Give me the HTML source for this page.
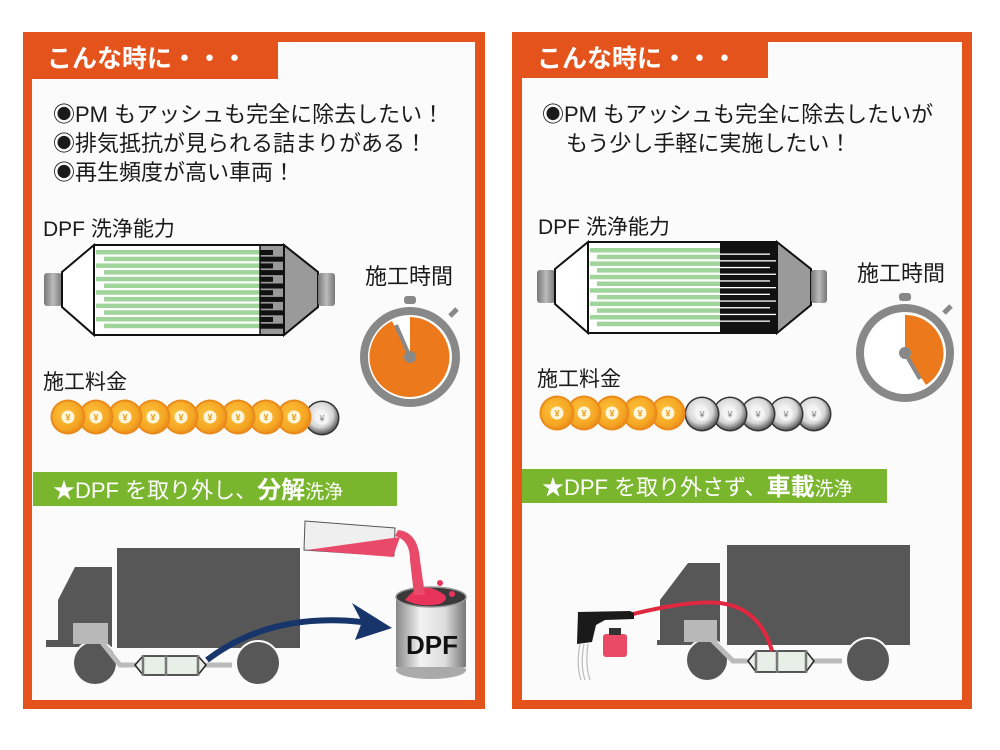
<!DOCTYPE html>
<html><head><meta charset="utf-8">
<style>
html,body{margin:0;padding:0;background:#fff;}
svg{display:block;}
text{font-family:"Liberation Sans","Noto Sans CJK JP",sans-serif;}
</style></head>
<body>
<svg width="1000" height="750" viewBox="0 0 1000 750" xmlns="http://www.w3.org/2000/svg">
<defs>
  <radialGradient id="gc" cx="0.4" cy="0.4" r="0.7">
    <stop offset="0" stop-color="#fcc23a"/><stop offset="0.7" stop-color="#f5a623"/><stop offset="1" stop-color="#e8861a"/>
  </radialGradient>
  <radialGradient id="sc" cx="0.45" cy="0.4" r="0.7">
    <stop offset="0" stop-color="#ffffff"/><stop offset="0.55" stop-color="#d8d8d8"/><stop offset="0.85" stop-color="#606060"/><stop offset="1" stop-color="#222"/>
  </radialGradient>
  <linearGradient id="cyl" x1="0" x2="1">
    <stop offset="0" stop-color="#888"/><stop offset="0.35" stop-color="#f2f2f2"/><stop offset="0.7" stop-color="#ddd"/><stop offset="1" stop-color="#777"/>
  </linearGradient>
  <linearGradient id="cap" x1="0" x2="1">
    <stop offset="0" stop-color="#777"/><stop offset="0.5" stop-color="#bbb"/><stop offset="1" stop-color="#777"/>
  </linearGradient>
  <g id="gcoin"><circle r="17.5" fill="#e98a1b"/><circle r="15.5" fill="url(#gc)"/><circle r="6.5" fill="#fff6dc"/><text y="3.5" font-size="9" text-anchor="middle" fill="#e8a020" font-weight="bold">¥</text></g>
  <g id="scoin"><circle r="17.5" fill="#333"/><circle r="16" fill="url(#sc)"/><circle r="7" fill="#f4f4f4"/><text y="3.5" font-size="9" text-anchor="middle" fill="#888">¥</text></g>
</defs>

<!-- ===== LEFT PANEL ===== -->
<rect x="23" y="32" width="462" height="677" fill="#e5531c"/>
<rect x="32" y="79" width="443" height="621" fill="#fbfbfb"/>
<rect x="278" y="42" width="197" height="40" fill="#fbfbfb"/>
<text x="47" y="67" font-size="25" font-weight="bold" fill="#fff">こんな時に・・・</text>

<text x="53" y="122" font-size="22" fill="#1a1a1a">◉PM もアッシュも完全に除去したい！</text>
<text x="53" y="151" font-size="22" fill="#1a1a1a">◉排気抵抗が見られる詰まりがある！</text>
<text x="53" y="180" font-size="22" fill="#1a1a1a">◉再生頻度が高い車両！</text>

<text x="43" y="236" font-size="21" fill="#1a1a1a">DPF 洗浄能力</text>
<!-- left filter -->
<rect x="44" y="273" width="18" height="33" rx="3" fill="url(#cap)"/>
<polygon points="62,272 94,245 94,335 62,307" fill="#fff" stroke="#111" stroke-width="2"/>
<rect x="95" y="245" width="188" height="90" fill="#fff"/>
<line x1="95" y1="245" x2="283" y2="245" stroke="#111" stroke-width="2"/>
<line x1="95" y1="335" x2="283" y2="335" stroke="#111" stroke-width="2"/>
<g fill="#9fd49a">
<rect x="96" y="250" width="164" height="4.5"/><rect x="104" y="256.7" width="156" height="4.5"/>
<rect x="96" y="263.4" width="164" height="4.5"/><rect x="104" y="270.1" width="156" height="4.5"/>
<rect x="96" y="276.8" width="164" height="4.5"/><rect x="104" y="283.5" width="156" height="4.5"/>
<rect x="96" y="290.2" width="164" height="4.5"/><rect x="104" y="296.9" width="156" height="4.5"/>
<rect x="96" y="303.6" width="164" height="4.5"/><rect x="104" y="310.3" width="156" height="4.5"/>
<rect x="96" y="317" width="164" height="4.5"/><rect x="104" y="323.7" width="156" height="4.5"/>
</g>
<rect x="260" y="246" width="23" height="88" fill="#999"/>
<line x1="260" y1="246" x2="260" y2="334" stroke="#111" stroke-width="1.5"/>
<g fill="#111">
<rect x="260" y="250" width="13" height="5"/><rect x="260" y="256.7" width="23" height="5"/>
<rect x="260" y="263.4" width="13" height="5"/><rect x="260" y="270.1" width="23" height="5"/>
<rect x="260" y="276.8" width="13" height="5"/><rect x="260" y="283.5" width="23" height="5"/>
<rect x="260" y="290.2" width="13" height="5"/><rect x="260" y="296.9" width="23" height="5"/>
<rect x="260" y="303.6" width="13" height="5"/><rect x="260" y="310.3" width="23" height="5"/>
<rect x="260" y="317" width="13" height="5"/><rect x="260" y="323.7" width="23" height="5"/>
</g>
<polygon points="284,245 318,272 318,307 284,335" fill="#9a9a9a" stroke="#111" stroke-width="2"/>
<rect x="318" y="273" width="17" height="33" rx="3" fill="url(#cap)"/>

<text x="365" y="284" font-size="22" fill="#1a1a1a">施工時間</text>
<!-- left stopwatch -->
<rect x="404" y="296" width="12" height="8" rx="3" fill="#888"/>
<line x1="450" y1="316" x2="457" y2="309" stroke="#888" stroke-width="5"/>
<circle cx="410" cy="357" r="50" fill="#888"/>
<circle cx="410" cy="357" r="42" fill="#fff"/>
<path d="M410,357 L410,317 A40,40 0 1 1 392,321 Z" fill="#ec7a1c"/>
<line x1="410" y1="357" x2="396" y2="325" stroke="#888" stroke-width="4"/>
<circle cx="410" cy="357" r="6" fill="#888"/>

<text x="43" y="389" font-size="21" fill="#1a1a1a">施工料金</text>
<use href="#scoin" x="322" y="418"/>
<use href="#gcoin" x="294" y="417"/><use href="#gcoin" x="266" y="417"/><use href="#gcoin" x="238" y="417"/>
<use href="#gcoin" x="210" y="417"/><use href="#gcoin" x="181" y="417"/><use href="#gcoin" x="153" y="417"/>
<use href="#gcoin" x="125" y="417"/><use href="#gcoin" x="96" y="417"/><use href="#gcoin" x="68" y="417"/>

<rect x="33" y="472" width="364" height="34" fill="#79b62e"/>
<text x="53" y="498" font-size="22" fill="#fff">★DPF を取り外し、<tspan font-weight="bold" font-size="24">分解</tspan><tspan font-size="19">洗浄</tspan></text>

<!-- left truck -->
<rect x="117" y="548" width="183" height="100" fill="#575757"/>
<path d="M112,567 L75,567 L58,600 L58,640 L46,640 L46,647 L112,647 Z" fill="#575757"/>
<circle cx="95" cy="663" r="22" fill="#575757" stroke="#fbfbfb" stroke-width="2"/>
<circle cx="258" cy="663" r="22" fill="#575757" stroke="#fbfbfb" stroke-width="2"/>
<rect x="73" y="623" width="35" height="21" fill="#b8b8b8"/>
<polyline points="100,640 120,665 232,665" fill="none" stroke="#bbb" stroke-width="5"/>
<path d="M135,665 L143,656 L198,656 L206,665 L198,675 L143,675 Z" fill="#e8efe6" stroke="#222" stroke-width="1.5"/>
<line x1="143" y1="655" x2="143" y2="676" stroke="#777" stroke-width="2.5"/>
<line x1="166" y1="655" x2="166" y2="676" stroke="#777" stroke-width="2.5"/>
<line x1="198" y1="655" x2="198" y2="676" stroke="#777" stroke-width="2.5"/>
<path d="M207,660 Q270,612 362,622" fill="none" stroke="#17346b" stroke-width="6"/>
<polygon points="392,628 352,603 362,622 355,640" fill="#17346b"/>

<!-- bucket -->
<ellipse cx="431" cy="670" rx="35" ry="9" fill="#aaa"/>
<rect x="396" y="597" width="70" height="70" fill="url(#cyl)"/>
<ellipse cx="431" cy="597" rx="35" ry="10" fill="#3a3a3a" stroke="#999" stroke-width="1.5"/>
<path d="M405,600 Q420,580 440,592 Q452,598 440,604 Q420,608 405,600 Z" fill="#e8345a"/>
<circle cx="440" cy="583" r="3" fill="#e8345a"/><circle cx="452" cy="594" r="3" fill="#e8345a"/>
<text x="432" y="654" font-size="26" font-weight="bold" text-anchor="middle" fill="#111">DPF</text>
<!-- pour -->
<polygon points="305,521 395,528 394,556 304,550" fill="#efefef" stroke="#555" stroke-width="1"/>
<polygon points="307,550 400,537 393,557" fill="#ea4a6a"/>
<path d="M395,536 Q410,540 410,560 L414,595 L425,595 L420,560 Q418,532 398,530 Z" fill="#ea4a6a"/>

<!-- ===== RIGHT PANEL ===== -->
<rect x="512" y="32" width="460" height="677" fill="#e5531c"/>
<rect x="522" y="78" width="440" height="622" fill="#fbfbfb"/>
<rect x="768" y="42" width="194" height="40" fill="#fbfbfb"/>
<text x="537" y="67" font-size="25" font-weight="bold" fill="#fff">こんな時に・・・</text>

<text x="542" y="122" font-size="22" fill="#1a1a1a">◉PM もアッシュも完全に除去したいが</text>
<text x="566" y="151" font-size="22" fill="#1a1a1a">もう少し手軽に実施したい！</text>

<text x="538" y="234" font-size="21" fill="#1a1a1a">DPF 洗浄能力</text>
<!-- right filter -->
<rect x="537" y="270" width="18" height="33" rx="3" fill="url(#cap)"/>
<polygon points="555,269 588,242 588,333 555,304" fill="#fff" stroke="#111" stroke-width="2"/>
<rect x="589" y="242" width="187" height="91" fill="#fff"/>
<line x1="589" y1="242" x2="776" y2="242" stroke="#111" stroke-width="2"/>
<line x1="589" y1="333" x2="776" y2="333" stroke="#111" stroke-width="2"/>
<g fill="#9fd49a">
<rect x="590" y="248" width="130" height="4.5"/><rect x="597" y="254.7" width="123" height="4.5"/>
<rect x="590" y="261.4" width="130" height="4.5"/><rect x="597" y="268.1" width="123" height="4.5"/>
<rect x="590" y="274.8" width="130" height="4.5"/><rect x="597" y="281.5" width="123" height="4.5"/>
<rect x="590" y="288.2" width="130" height="4.5"/><rect x="597" y="294.9" width="123" height="4.5"/>
<rect x="590" y="301.6" width="130" height="4.5"/><rect x="597" y="308.3" width="123" height="4.5"/>
<rect x="590" y="315" width="130" height="4.5"/><rect x="597" y="321.7" width="123" height="4.5"/>
</g>
<rect x="720" y="243" width="56" height="89" fill="#111"/>
<g fill="#fff">
<rect x="720" y="253.5" width="50" height="1.3"/><rect x="720" y="260.2" width="56" height="1.3"/>
<rect x="720" y="266.9" width="50" height="1.3"/><rect x="720" y="273.6" width="56" height="1.3"/>
<rect x="720" y="280.3" width="50" height="1.3"/><rect x="720" y="287" width="56" height="1.3"/>
<rect x="720" y="293.7" width="50" height="1.3"/><rect x="720" y="300.4" width="56" height="1.3"/>
<rect x="720" y="307.1" width="50" height="1.3"/><rect x="720" y="313.8" width="56" height="1.3"/>
<rect x="720" y="320.5" width="50" height="1.3"/>
</g>
<polygon points="777,242 811,269 811,305 777,333" fill="#9a9a9a" stroke="#111" stroke-width="2"/>
<rect x="811" y="270" width="16" height="33" rx="3" fill="url(#cap)"/>

<text x="857" y="281" font-size="22" fill="#1a1a1a">施工時間</text>
<!-- right stopwatch -->
<rect x="899" y="293" width="12" height="8" rx="3" fill="#888"/>
<line x1="944" y1="313" x2="951" y2="306" stroke="#888" stroke-width="5"/>
<circle cx="905" cy="353" r="49" fill="#888"/>
<circle cx="905" cy="353" r="41" fill="#fff"/>
<path d="M905,353 L905,315 A38,38 0 0 1 926,385 Z" fill="#ec7a1c"/>
<line x1="905" y1="353" x2="920" y2="379" stroke="#888" stroke-width="4"/>
<circle cx="905" cy="353" r="6" fill="#888"/>

<text x="537" y="386" font-size="21" fill="#1a1a1a">施工料金</text>
<use href="#scoin" x="814" y="414"/><use href="#scoin" x="786" y="414"/><use href="#scoin" x="758" y="414"/>
<use href="#scoin" x="730" y="414"/><use href="#scoin" x="702" y="414"/>
<use href="#gcoin" x="668" y="413"/><use href="#gcoin" x="640" y="413"/><use href="#gcoin" x="612" y="413"/>
<use href="#gcoin" x="584" y="413"/><use href="#gcoin" x="557" y="413"/>

<rect x="522" y="469" width="365" height="34" fill="#79b62e"/>
<text x="542" y="495" font-size="22" fill="#fff">★DPF を取り外さず、<tspan font-weight="bold" font-size="24">車載</tspan><tspan font-size="19">洗浄</tspan></text>

<!-- right truck -->
<rect x="727" y="545" width="183" height="100" fill="#575757"/>
<path d="M720,563 L688,563 L660,600 L660,640 L657,640 L657,645 L720,645 Z" fill="#575757"/>
<circle cx="707" cy="660" r="21" fill="#575757" stroke="#fbfbfb" stroke-width="2"/>
<circle cx="868" cy="660" r="22" fill="#575757" stroke="#fbfbfb" stroke-width="2"/>
<rect x="684" y="620" width="33" height="22" fill="#b8b8b8"/>
<polyline points="712,640 733,661 842,661" fill="none" stroke="#bbb" stroke-width="5"/>
<path d="M748,661 L756,651 L806,651 L814,661 L806,672 L756,672 Z" fill="#e8efe6" stroke="#222" stroke-width="1.5"/>
<line x1="756" y1="650" x2="756" y2="673" stroke="#777" stroke-width="2.5"/>
<line x1="777" y1="650" x2="777" y2="673" stroke="#777" stroke-width="2.5"/>
<line x1="806" y1="650" x2="806" y2="673" stroke="#777" stroke-width="2.5"/>
<!-- gun -->
<path d="M633,614 Q690,600 720,603 Q760,608 772,651" fill="none" stroke="#e02840" stroke-width="4"/>
<path d="M578,612 L630,611 L634,613 L634,619 L605,620 L596,625 L592,642 L577,644 Z" fill="#1a1a1a"/>
<rect x="603" y="634" width="24" height="23" rx="3" fill="#ea4a63"/>
<rect x="609" y="628" width="12" height="7" fill="#333"/>
<path d="M580,644 Q576,665 581,680 M584,644 Q580,665 585,680 M588,644 Q585,665 590,680" fill="none" stroke="#bbb" stroke-width="1.2"/>
</svg>
</body></html>
